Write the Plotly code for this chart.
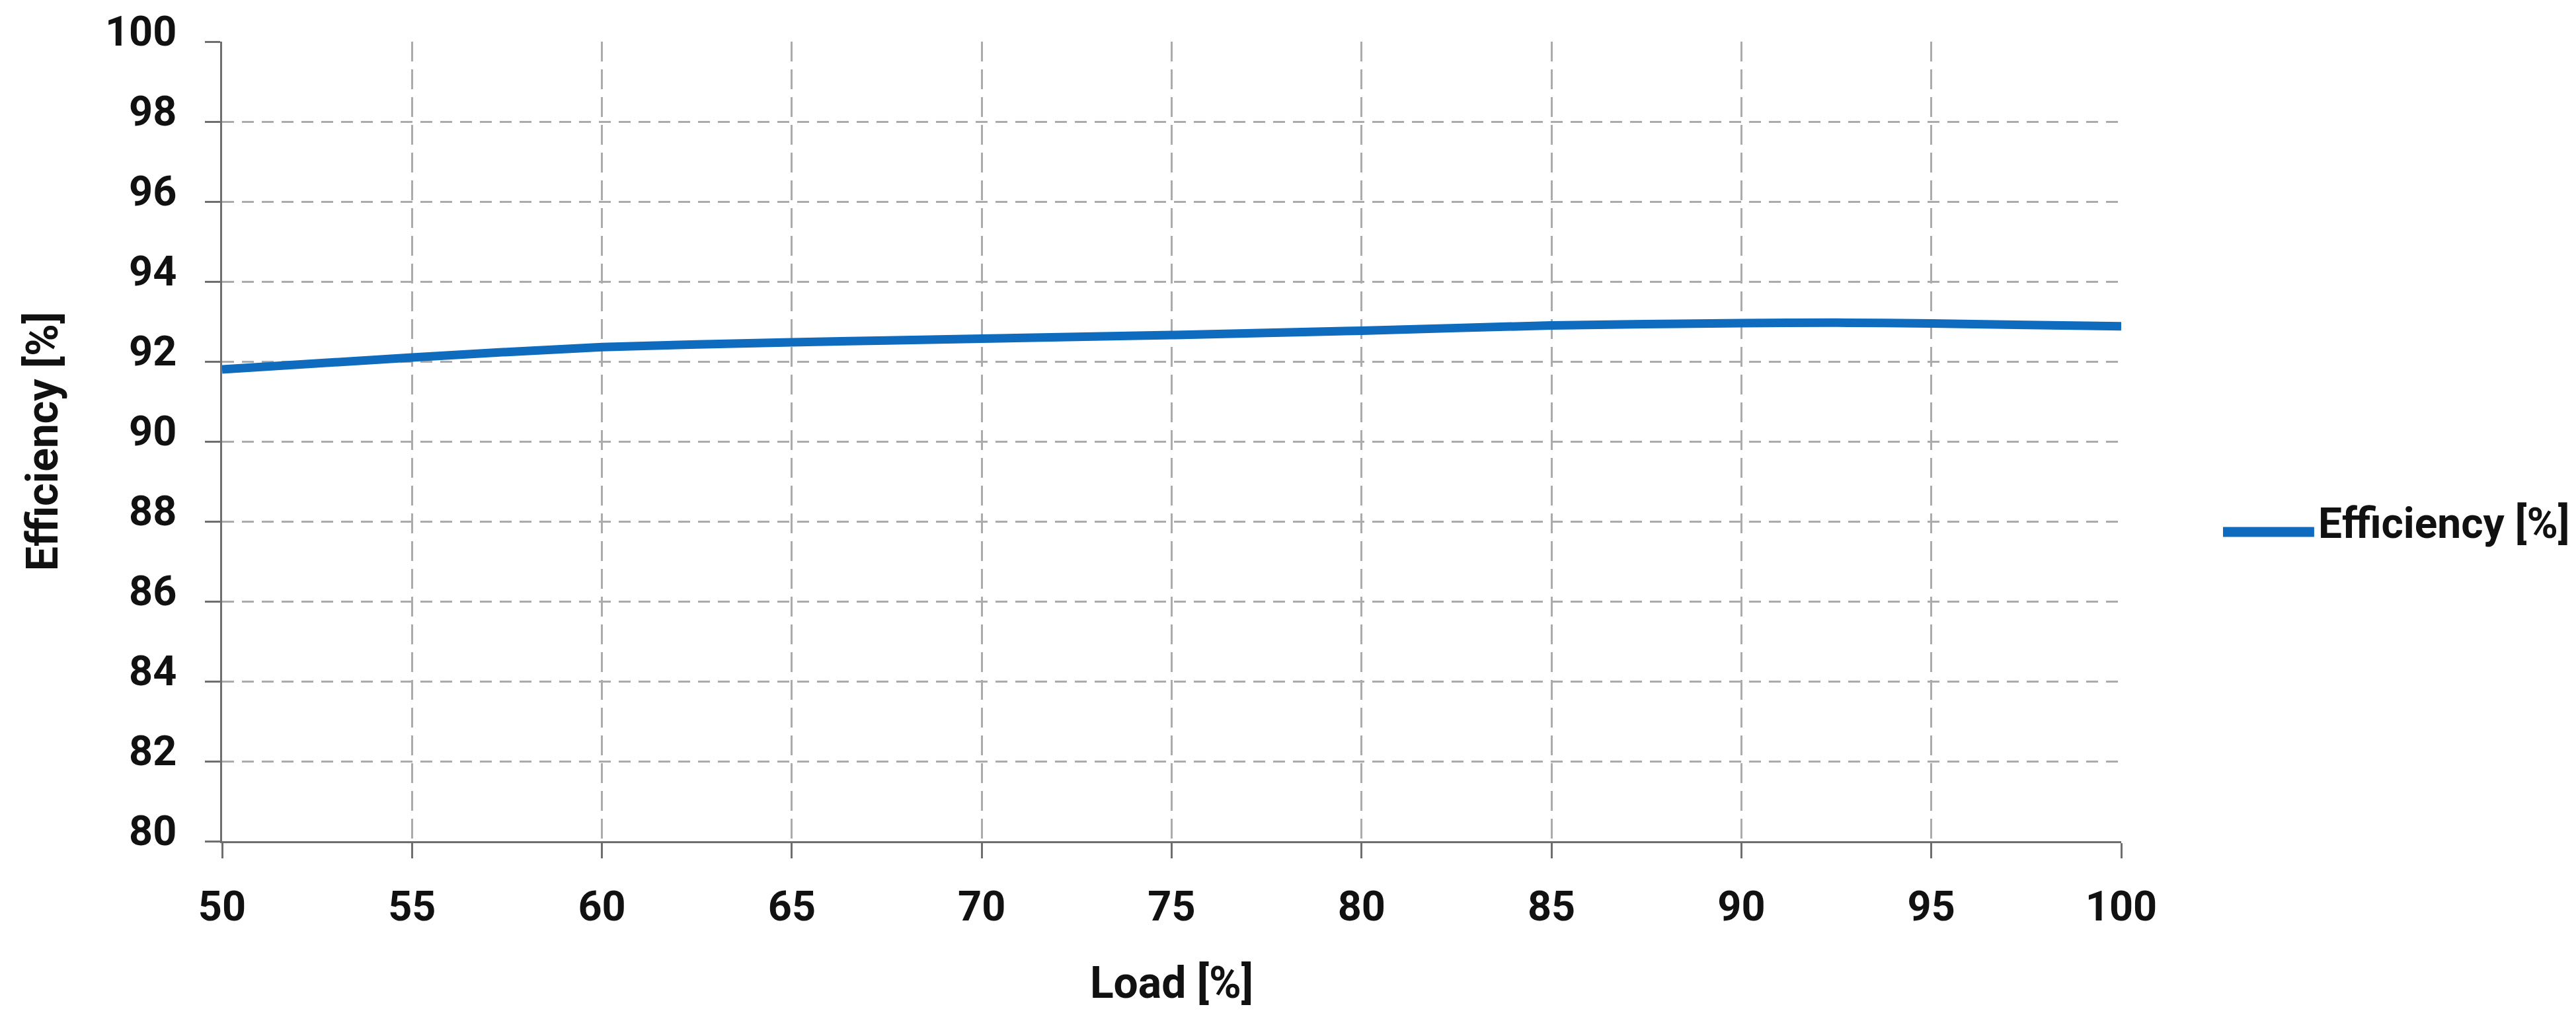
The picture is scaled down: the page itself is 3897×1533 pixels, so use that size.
import plotly.graph_objects as go

load_pct = [50, 55, 60, 65, 70, 75, 80, 85, 90, 92.5, 95, 100]
efficiency_pct = [91.8, 92.1, 92.36, 92.48, 92.57, 92.66, 92.77, 92.9, 92.96, 92.97, 92.95, 92.88]
x_ticks = [50, 55, 60, 65, 70, 75, 80, 85, 90, 95, 100]
y_ticks = [80, 82, 84, 86, 88, 90, 92, 94, 96, 98, 100]
series_name = "Efficiency [%]"
x_title = "Load [%]"
y_title = "Efficiency [%]"

W, H = 3897, 1533
LINE_COLOR = "#0E6BBE"
TICK_FONT = dict(family="Roboto", size=63, color="#111111", weight="bold")
TITLE_FONT = dict(family="Roboto", size=66, color="#111111", weight="bold")
LEGEND_FONT = dict(family="Roboto", size=64, color="#111111", weight="bold")

fig = go.Figure()
fig.add_trace(go.Scatter(
    x=load_pct, y=efficiency_pct, mode="lines",
    line=dict(color=LINE_COLOR, width=13, shape="spline", smoothing=0.6),
    name=series_name, showlegend=False,
))

axis_common = dict(
    showgrid=True, gridcolor="#ABABAB", gridwidth=2.5,
    showline=True, linecolor="#6E6E6E", linewidth=3, mirror=False,
    ticks="outside", ticklen=23, tickcolor="#6E6E6E", tickwidth=3,
    tickfont=TICK_FONT, zeroline=False, automargin=False,
)

fig.update_layout(
    width=W, height=H,
    paper_bgcolor="white", plot_bgcolor="white",
    margin=dict(l=328, r=696, t=55, b=268, autoexpand=False),
    font=TICK_FONT,
    showlegend=False,
    xaxis=dict(range=[50, 100], tickvals=x_ticks, griddash="30px,12px", **axis_common,
               title=dict(text=x_title, font=TITLE_FONT, standoff=58),
               ticklabelstandoff=18),
    yaxis=dict(range=[80, 100], tickvals=y_ticks, griddash="18px,12px", **axis_common,
               title=dict(text=y_title, font=TITLE_FONT, standoff=50),
               ticklabelstandoff=30, ticklabelshift=-16),
)

# legend drawn as a line sample + label on the right of the plot
fig.add_shape(type="line", xref="paper", yref="paper",
              x0=1.0536, x1=1.1016, y0=0.3868, y1=0.3868,
              line=dict(color=LINE_COLOR, width=15))
fig.add_annotation(xref="paper", yref="paper", x=1.1033, y=0.3967,
                   xanchor="left", yanchor="middle", showarrow=False,
                   text=series_name, font=LEGEND_FONT, borderpad=0)

fig.write_html("out.html")
